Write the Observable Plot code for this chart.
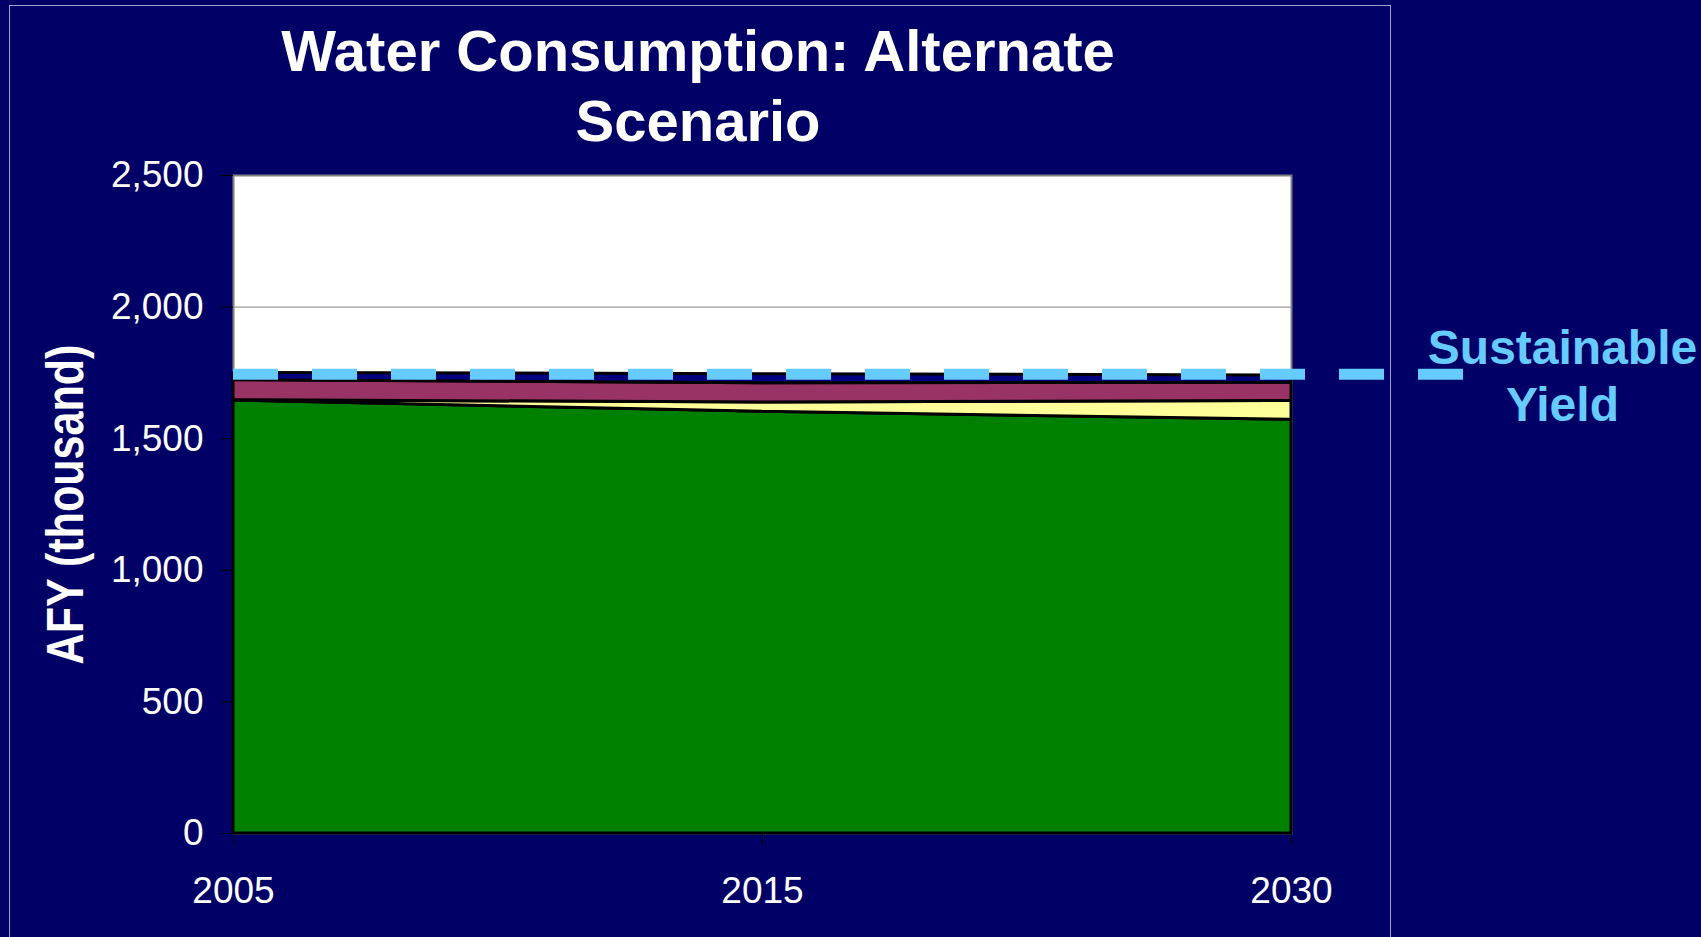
<!DOCTYPE html>
<html>
<head>
<meta charset="utf-8">
<script src="https://cdn.jsdelivr.net/npm/d3@7"></script>
<script src="https://cdn.jsdelivr.net/npm/@observablehq/plot@0.6"></script>
<style>
  html, body { margin: 0; padding: 0; background: #000066; overflow: hidden; width: 1701px; height: 937px; }
  #wrap { position: relative; width: 1701px; height: 937px; }
  #border { position: absolute; left: 9px; top: 5px; width: 1382px; height: 1000px; border: 1px solid #A0A0C8; box-sizing: border-box; }
  #title { position: absolute; left: 9px; width: 1378px; top: 16px; text-align: center; color: #ffffff;
           font: bold 58px "Liberation Sans", Arial, sans-serif; line-height: 70px; }
  #chart { position: absolute; left: 0; top: 0; }
</style>
</head>
<body>
<div id="wrap">
  <div id="border"></div>
  <div id="chart"></div>
  <div id="title">Water Consumption: Alternate<br>Scenario</div>
</div>
<script>
// ---- data ----
const years = ["2005", "2015", "2030"];
const seriesNames = ["Series A", "Series B", "Series C", "Series D"]; // bottom to top
const seriesA = [1645, 1602, 1572];   // green
const seriesB = [1, 36, 71];          // light yellow
const seriesC = [77, 73, 70];         // maroon
const seriesD = [27, 34, 27];         // navy
const sustainableYield = 1745;
const yTicks = [0, 500, 1000, 1500, 2000, 2500];
const yLabel = "AFY (thousand)";
const yieldLabel = "Sustainable\nYield";

// ---- styles ----
const seriesColors = ["#008000", "#FFFF99", "#993366", "#000080"];

const seriesValues = [seriesA, seriesB, seriesC, seriesD];
const rows = [];
seriesValues.forEach((vals, s) => vals.forEach((v, i) => rows.push({i, year: years[i], series: seriesNames[s], value: v})));
const xIdx = years.map((_, i) => i);

const plot = Plot.plot({
  width: 1701,
  height: 937,
  marginLeft: 233,
  marginRight: 410,
  marginTop: 175,
  marginBottom: 104,
  style: {background: "transparent", color: "#ffffff", fontFamily: "'Liberation Sans', Arial, sans-serif"},
  x: {type: "linear", domain: [0, years.length - 1]},
  y: {domain: [0, 2500]},
  color: {domain: seriesNames, range: seriesColors},
  marks: [
    Plot.frame({fill: "white", stroke: "#808080", strokeWidth: 2}),
    Plot.gridY([2000], {stroke: "#808080", strokeOpacity: 1, strokeWidth: 1}),
    Plot.areaY(rows, {x: "i", y: "value", z: "series", fill: "series", stroke: "black", strokeWidth: 3, strokeLinejoin: "miter"}),
    Plot.ruleY([sustainableYield], {stroke: "#66CCFF", strokeWidth: 11, strokeDasharray: "45,34", insetRight: -175}),
    Plot.axisY(yTicks, {tickSize: 12, tickPadding: 18, tickFormat: d3.format(","), stroke: "black", fill: "white", fontSize: 37, label: null}),
    Plot.axisX(xIdx, {tickSize: 12, tickPadding: 31, tickFormat: (i) => years[i], stroke: "black", fill: "white", fontSize: 37, label: null}),
    Plot.text([yLabel], {frameAnchor: "left", dx: -167, rotate: -90, fill: "white", fontWeight: "bold", fontSize: 52, textAnchor: "middle"}),
    Plot.text([yieldLabel], {x: () => years.length - 1, y: () => sustainableYield, dx: 271, fill: "#66CCFF", fontWeight: "bold", fontSize: 48, lineHeight: 1.19, textAnchor: "middle"})
  ]
});

document.getElementById("chart").appendChild(plot);
for (const t of plot.querySelectorAll("text")) {
  if (t.textContent === yLabel) {
    const len = t.getComputedTextLength();
    const tr = t.getAttribute("transform") || "";
    t.setAttribute("transform", tr + ` scale(${(320 / len).toFixed(4)},1)`);
  }
}
</script>
</body>
</html>
